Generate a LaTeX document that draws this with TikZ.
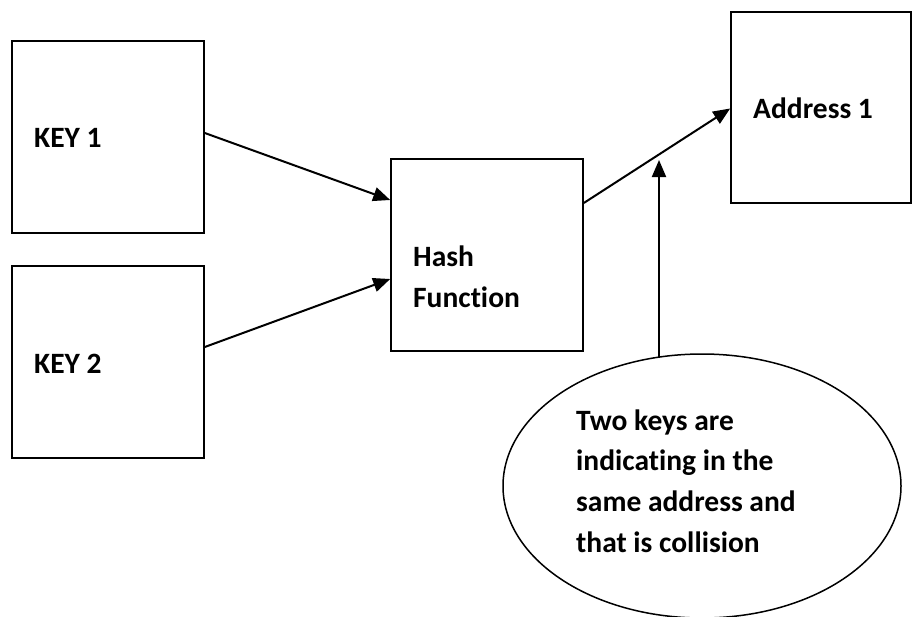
\documentclass[tikz,border=0pt]{standalone}
\usepackage{fontspec}
\setmainfont[Ligatures=NoCommon]{Carlito}
\usetikzlibrary{arrows.meta,shapes.geometric}
\begin{document}
\begin{tikzpicture}[x=1pt,y=-1pt,
  box/.style={draw,line width=1.6pt,minimum width=192pt,minimum height=192pt,inner sep=0pt},
  lbl/.style={anchor=base west,inner sep=0pt,font=\fontsize{29.5}{41}\selectfont\bfseries},
  link/.style={line width=2pt,-{Triangle[length=17pt,width=14pt]}}]
\useasboundingbox (0,0) rectangle (913,616);

% boxes
\node[box] (k1) at (108,137) {};
\node[box] (k2) at (108,362) {};
\node[box] (hf) at (487,255) {};
\node[box,minimum width=180pt,minimum height=191pt] (ad) at (821,107.5) {};
\node[draw,line width=1.5pt,ellipse,minimum width=398pt,minimum height=264pt,inner sep=0pt] (note) at (702,486) {};

% labels
\node[lbl] (t1) at (34,147) {KEY 1};
\node[lbl] (t2) at (34,373) {KEY 2};
\node[lbl] (h1) at (413,266) {Hash};
\node[lbl] (h2) at (413,307) {Function};
\node[lbl] (a1) at (753,118) {Address 1};
\node[lbl] (c1) at (576,430) {Two keys are};
\node[lbl] (c2) at (576,470) {indicating in the};
\node[lbl] (c3) at (576,511) {same address and};
\node[lbl] (c4) at (576,552) {that is collision};

% connectors
\draw[link] ([yshift=4pt]k1.east) -- ([yshift=55pt]hf.west);
\draw[link] ([yshift=15pt]k2.east) -- ([yshift=-24pt]hf.west);
\draw[link] ([yshift=52pt]hf.east) -- ([yshift=-1pt]ad.west);
\coordinate (tail) at (659,357);
\coordinate (tip) at (659,160);
\draw[link] (tail) -- (tip);
\end{tikzpicture}
\end{document}
